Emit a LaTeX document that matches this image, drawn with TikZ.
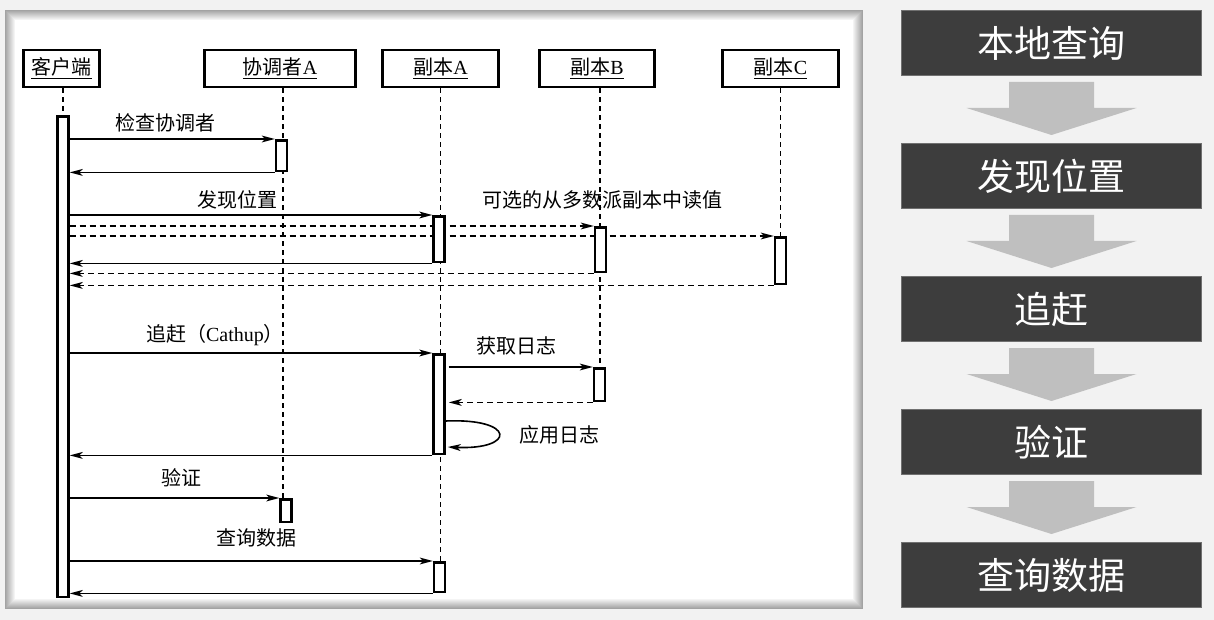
\documentclass[tikz,border=0pt]{standalone}
\usepackage{fontspec}
\setmainfont{Liberation Serif}
\newfontfamily\cjk{Noto Sans CJK SC}
\usetikzlibrary{arrows.meta,backgrounds,positioning}

\definecolor{pagebg}{HTML}{F2F2F2}
\definecolor{stepfill}{HTML}{3D3D3D}
\definecolor{stepedge}{HTML}{707070}
\definecolor{flowgrey}{HTML}{BFBFBF}

\tikzset{
  head/.style={draw, fill=white, line width=1.4pt, minimum height=18.5pt, inner sep=0pt, font=\cjk},
  act/.style={draw, fill=white, line width=1.3pt, minimum width=5.4pt, inner sep=0pt, anchor=north},
  msg/.style={line width=0.8pt, -{Stealth[length=6.5pt,width=3.4pt,inset=1.7pt]}},
  reply/.style={msg, dash pattern=on 3pt off 2pt},
  life/.style={line width=0.8pt, dash pattern=on 2.5pt off 2pt},
  lbl/.style={font=\cjk, inner sep=1pt},
  stepbox/.style={fill=stepfill, draw=stepedge, line width=0.5pt, minimum width=150pt,
    minimum height=32.5pt, text=white, font=\cjk\fontsize{18.5}{20}\selectfont}
}

\begin{document}
\begin{tikzpicture}[x=0.5pt, y=-0.5pt]
\useasboundingbox (0,0) rectangle (1214,620);

% participants
\foreach \nm/\x/\w/\txt in {cl/61.5/38.2/客户端, co/280/75.7/协调者\textrm{A},
    ra/440.5/58.2/副本\textrm{A}, rb/597/57.7/副本\textrm{B}, rc/780.5/58.2/副本\textrm{C}}
  \node[head, minimum width=\w pt] (\nm) at (\x,68.5) {\underline{\txt}};

% activation bars
\foreach \nm/\x/\t/\h in {aCl/63/115/240.4, aK1/281.5/139/15.4, aA1/439/215/22.9,
    aB1/600.5/226/22.4, aC1/780.5/236/23.4, aA2/439/353/49.9, aB2/599.5/367/16.4,
    aK2/286/498/11.4, aA3/439.5/561/14.9}
  \node[act, minimum height=\h pt] (\nm) at (\x,\t) {};

% message labels
\node[lbl] (l1) at (165,123) {检查协调者};
\node[lbl] (l2) at (237,200) {发现位置};
\node[lbl] (l3) at (602,200) {可选的从多数派副本中读值};
\node[lbl] (l4) at (215,335) {追赶（\textrm{Cathup}）};
\node[lbl] (l5) at (516,346) {获取日志};
\node[lbl] (l6) at (559,435) {应用日志};
\node[lbl] (l7) at (181,478) {验证};
\node[lbl] (l8) at (256,538) {查询数据};

% messages
\draw[msg] (aCl.east |- aK1.north west) -- (aK1.north west);
\draw[msg] (aK1.south west) -- (aCl.east |- aK1.south west);
\draw[msg] (aCl.east |- aA1.north west) -- (aA1.north west);
\draw[msg] (aA1.south west) -- (aCl.east |- aA1.south west);
\draw[reply] (aB1.south west) -- (aCl.east |- aB1.south west);
\draw[reply] (aC1.south west) -- (aCl.east |- aC1.south west);
\draw[msg] (aCl.east |- aA2.north west) -- (aA2.north west);
\draw[msg] ([xshift=1.5pt]aA2.east |- aB2.north west) -- (aB2.north west);
\draw[reply] (aB2.south west) -- ([xshift=1.5pt]aA2.east |- aB2.south west);
\draw[msg] (aA2.east |- 0,421) .. controls (516,418) and (516,450) .. ([xshift=1pt]aA2.east |- 0,447);
\draw[msg] (aA2.south west) -- (aCl.east |- aA2.south west);
\draw[msg] (aCl.east |- aK2.north west) -- (aK2.north west);
\draw[msg] (aCl.east |- aA3.north west) -- (aA3.north west);
\draw[msg] (aA3.south west) -- (aCl.east |- aA3.south west);

% steps on the right
\foreach \i/\txt in {1/本地查询, 2/发现位置, 3/追赶, 4/验证, 5/查询数据}
  \node[stepbox] (s\i) at (1051.5,{43+133*(\i-1)}) {\txt};
\foreach \i in {1,...,4}
  \fill[flowgrey] ([xshift=-21.25pt,yshift=-3pt]s\i.south) -- ([xshift=21.25pt,yshift=-3pt]s\i.south)
    -- ([xshift=21.25pt,yshift=-16pt]s\i.south) -- ([xshift=42.5pt,yshift=-16pt]s\i.south)
    -- ([yshift=-29.5pt]s\i.south) -- ([xshift=-42.5pt,yshift=-16pt]s\i.south)
    -- ([xshift=-21.25pt,yshift=-16pt]s\i.south) -- cycle;

\begin{scope}[on background layer]
  \fill[pagebg] (0,0) rectangle (1214,620);
  % white panel with a soft inner shade
  \foreach \k in {0,...,9} {
    \pgfmathsetmacro{\sh}{36-3.5*\k}
    \fill[black!\sh] (5+\k,10+\k) rectangle (863-\k,609-\k);
  }
  \fill[white] (15,20) rectangle (853,599);
  % lifelines
  \draw[life] (aCl.north |- cl.south) -- (aCl.north);
  \draw[life] ([xshift=1.5pt]co.south) -- ([xshift=1.5pt]co.south |- aK2.south);
  \draw[life] (ra.south) -- (ra.south |- aA3.south);
  \draw[life] ([xshift=1.5pt]rb.south) -- ([xshift=1.5pt]rb.south |- aB2.south);
  \draw[life] (rc.south) -- (rc.south |- aC1.south);
  % reads that pass behind the bars
  \draw[reply] (aCl.east |- aB1.north west) -- (aB1.north west);
  \draw[reply] (aCl.east |- aC1.north west) -- (aC1.north west);
\end{scope}
\end{tikzpicture}
\end{document}
